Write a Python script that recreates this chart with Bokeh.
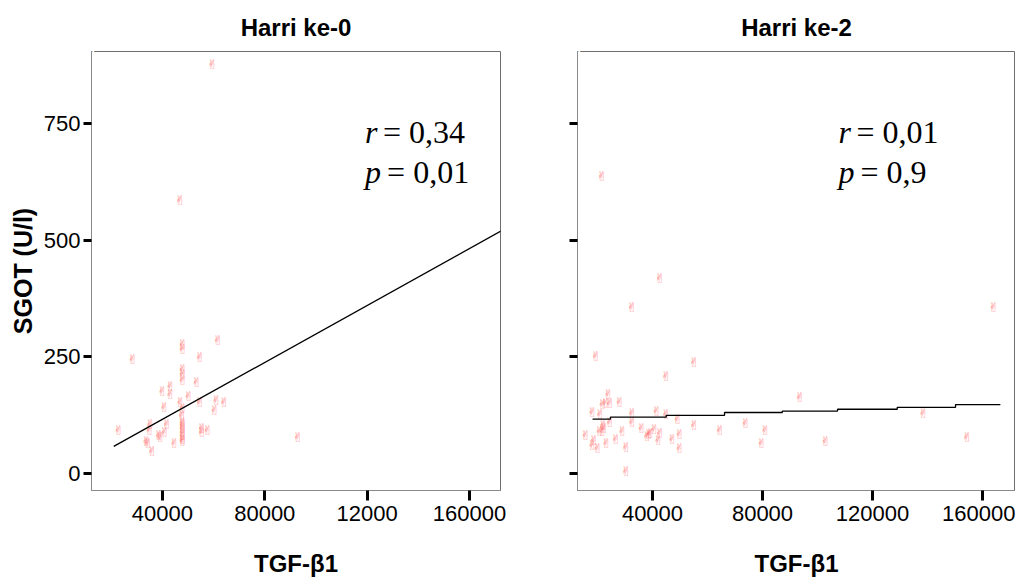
from bokeh.plotting import figure
from bokeh.layouts import row
from bokeh.models import Range1d, FixedTicker, Label, Title
from bokeh.core.properties import value
from bokeh.embed import file_html
from bokeh.resources import INLINE

# ---------------- data ----------------
titles = ["Harri ke-0", "Harri ke-2"]
x_label = "TGF-β1"
y_label = "SGOT (U/l)"
x_ticks = [40000, 80000, 120000, 160000]
y_ticks = [0, 250, 500, 750]
x_tick_labels_left = {40000: "40000", 80000: "80000", 120000: "12000", 160000: "160000"}
x_tick_labels_right = {40000: "40000", 80000: "80000", 120000: "120000", 160000: "160000"}

x0 = [28400, 47900, 47900, 61700, 54700, 47900, 47900, 47900, 53400, 40000, 43100, 43100,
      40800, 47100, 50300, 47900, 47600, 54700, 61100, 64100, 60400, 22900, 35300, 35000,
      41800, 40900, 38700, 39200, 33800, 34400, 36000, 44700, 47900, 47900, 47900, 47900,
      47900, 47900, 47900, 55500, 55500, 57700, 93000, 59600, 47000]
y0 = [244, 276, 266, 286, 248, 223, 213, 200, 195, 176, 187, 169,
      141, 153, 165, 139, 124, 153, 156, 153, 136, 92, 106, 92,
      106, 88, 81, 78, 69, 65, 48, 65, 110, 103, 96, 88,
      81, 74, 69, 96, 88, 92, 78, 877, 585]

x2 = [19400, 55200, 45000, 24000, 21900, 23000, 24500, 28100, 18200, 21000, 32600, 41500,
      45000, 49200, 32600, 24500, 22100, 22400, 21800, 20800, 15700, 18700, 18200, 20100,
      23300, 26700, 29100, 30400, 30400, 36100, 38100, 38700, 39300, 40700, 42700, 42200,
      47300, 49900, 49900, 55200, 64500, 73900, 93600, 81100, 79700, 103000, 138500, 154400,
      21600, 42700, 32500, 164100]
y2 = [251, 238, 208, 169, 148, 150, 151, 153, 130, 127, 128, 133,
      126, 116, 109, 110, 104, 97, 90, 91, 81, 71, 60, 53,
      65, 74, 91, 56, 5, 96, 79, 83, 86, 95, 86, 72,
      74, 83, 53, 103, 92, 108, 163, 92, 65, 69, 129, 78,
      637, 419, 356, 355]

fit0_x = [21000, 175400]
fit0_y = [58.5, 529]
fit2_x = [18200, 24700, 45000, 66200, 87200, 107300, 129000, 150200, 166500]
fit2_y = [117, 121, 125, 131, 134, 138, 142, 148, 148]

stats_left = ("r", "= 0,34", "p", "= 0,01")
stats_right = ("r", "= 0,01", "p", "= 0,9")

# ---------------- styling ----------------
SANS = "Liberation Sans"
SERIF = "Liberation Serif"
MARK = "✌"


def make_panel(title, xr, left_border, right_border, frame_w, show_ylabels, overrides):
    p = figure(frame_width=frame_w, frame_height=439,
               x_range=Range1d(*xr), y_range=Range1d(-36, 904),
               output_backend="svg", toolbar_location=None,
               min_border_left=left_border, min_border_right=right_border,
               min_border_top=51, min_border_bottom=90)
    p.background_fill_color = "white"
    p.border_fill_color = "white"
    p.outline_line_color = "#6e6e6e"
    p.outline_line_width = 1
    p.xgrid.visible = False
    p.ygrid.visible = False

    # default title left empty; a thin spacer next to the frame, real title above it
    p.title.text = ""
    p.title.standoff = 0
    p.add_layout(Title(text=".", text_color="white", text_font_size="12px",
                       standoff=0), "above")
    p.add_layout(Title(text=title, align="center", text_font=SANS,
                       text_font_size="24px", text_font_style="bold",
                       text_color="black", standoff=0), "above")

    for ax in (p.xaxis, p.yaxis):
        ax.axis_line_color = "#8a8a8a"
        ax.axis_line_width = 1
        ax.major_tick_line_color = "black"
        ax.major_tick_line_width = 3
        ax.minor_tick_line_color = None
        ax.major_tick_in = 0
        ax.major_label_text_font = SANS
        ax.major_label_text_font_size = "22px"
        ax.major_label_text_color = "black"
        ax.axis_label_text_font = SANS
        ax.axis_label_text_font_size = "24px"
        ax.axis_label_text_font_style = "bold"
        ax.axis_label_text_color = "black"

    p.xaxis.ticker = FixedTicker(ticks=x_ticks)
    p.xaxis.major_label_overrides = overrides
    p.xaxis.major_tick_out = 10
    p.xaxis.major_label_standoff = 5
    p.xaxis.axis_label = x_label
    p.xaxis.axis_label_standoff = 26

    p.yaxis.ticker = FixedTicker(ticks=y_ticks)
    p.yaxis.major_tick_out = 8
    p.yaxis.major_label_standoff = 3
    if show_ylabels:
        p.yaxis.axis_label = y_label
        p.yaxis.axis_label_text_font_size = "25px"
        p.yaxis.axis_label_standoff = 4
    else:
        p.yaxis.major_label_overrides = {t: "" for t in y_ticks}
    return p


p1 = make_panel(titles[0], (12300, 172100), 91, 30, 409, True, x_tick_labels_left)
p2 = make_panel(titles[1], (12730, 172000), 47, 0, 438, False, x_tick_labels_right)

for p, xs, ys in ((p1, x0, y0), (p2, x2, y2)):
    p.text(x=xs, y=ys, text=value(MARK), text_font=value("DejaVu Sans"),
           text_font_size="13px", text_color="#ff6060", text_alpha=0.75,
           text_align="center", text_baseline="middle")

p1.line(fit0_x, fit0_y, line_color="black", line_width=1.3)
p2.step(fit2_x, fit2_y, mode="after", line_color="black", line_width=1.3)


def add_stats(p, stats, xr, xe, xp, xe2):
    r_sym, r_val, p_sym, p_val = stats
    for x, y, t, style in ((xr, 731, r_sym, "italic"), (xe, 731, r_val, "normal"),
                           (xp, 647, p_sym, "italic"), (xe2, 647, p_val, "normal")):
        p.add_layout(Label(x=x, y=y, text=t, text_font=SERIF, text_font_size="32px",
                           text_font_style=style, text_color="black",
                           text_baseline="alphabetic", text_align="left"))


add_stats(p1, stats_left, 119200, 126200, 119200, 127800)
add_stats(p2, stats_right, 107600, 114200, 107600, 115600)

layout = row(p1, p2)
open("out.html", "w").write(file_html(layout, INLINE))
